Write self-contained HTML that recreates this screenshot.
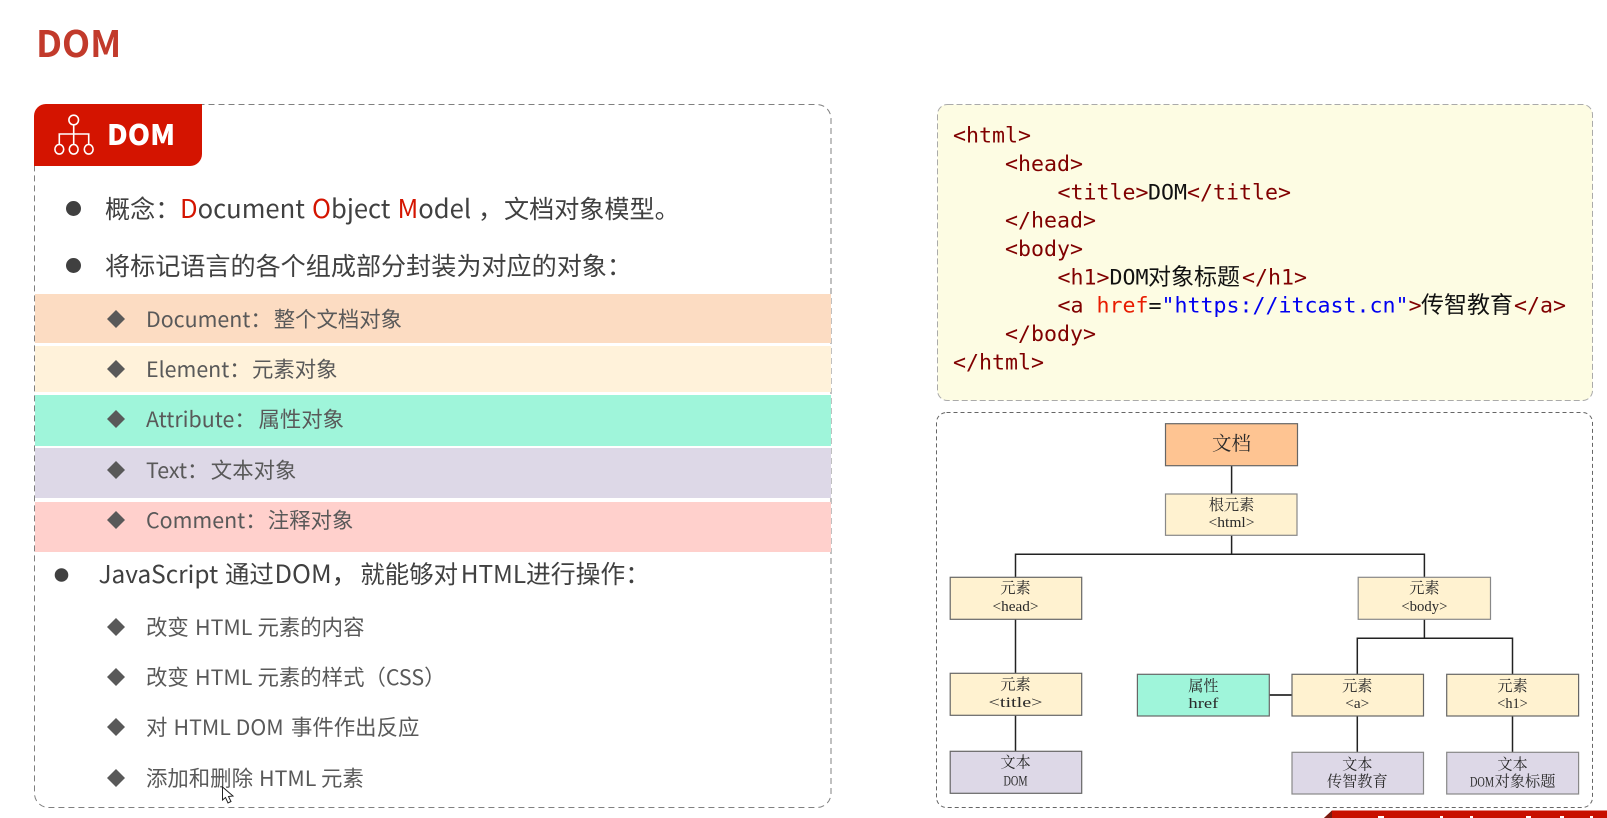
<!DOCTYPE html>
<html lang="zh">
<head>
<meta charset="utf-8">
<title>DOM</title>
<style>
html,body{margin:0;padding:0;background:#fff;width:1607px;height:818px;overflow:hidden}
svg{display:block}
.s{font-family:"Noto Sans CJK SC","Liberation Sans",sans-serif}
.l1{font-size:25.1px;fill:#404040}
.l2{font-size:21.4px;fill:#595959}
.c{font-family:"DejaVu Sans Mono","Liberation Mono",monospace;font-size:21.6px;fill:#800000}
.cj{font-family:"Noto Sans CJK SC",sans-serif;font-size:23px;fill:#111}
.k{fill:#111}
.b{fill:#0000f0}
.r{fill:#e81c00}
.bx{stroke:#666;stroke-width:1.2}
.y{fill:#fff2d0}.p{fill:#ddd8e7}.g{fill:#9ff5da}
.z{font-family:"Noto Serif CJK SC",serif;font-size:15.2px;fill:#2a2a2a;text-anchor:middle}
.m{font-family:"Liberation Serif",serif;font-size:15px;fill:#2a2a2a;text-anchor:middle}
.ln{stroke:#222;stroke-width:1.5;fill:none}
</style>
</head>
<body>
<svg width="1607" height="818" viewBox="0 0 1607 818" xmlns="http://www.w3.org/2000/svg">
<text class="s" x="36" y="57" font-size="36.5" font-weight="700" fill="#c23a2b">DOM</text>

<rect x="34.5" y="104.5" width="796.5" height="703" rx="14" fill="#fff" stroke="#808080" stroke-dasharray="6 4"/>
<path d="M34 166V116a12 12 0 0 1 12-12H202V154a12 12 0 0 1-12 12Z" fill="#d41400"/>
<g fill="none" stroke="#fff" stroke-width="1.6">
<circle cx="73.7" cy="120" r="4.8"/>
<ellipse cx="59.3" cy="149.3" rx="4.4" ry="4.8"/><ellipse cx="73.7" cy="149.3" rx="4.4" ry="4.8"/><ellipse cx="88.7" cy="149.3" rx="4.4" ry="4.8"/>
<path d="M73.7 125V144.500M59.3 144.500V134H88.7V144.500"/>
</g>
<text class="s" x="107" y="145" font-size="28.5" font-weight="900" fill="#fff">DOM</text>

<circle cx="73.5" cy="208.5" r="7.5" fill="#404040"/>
<text class="s l1" y="218"><tspan x="105">概念：</tspan><tspan x="180" font-size="25.6" style="fill:#d41400">D</tspan><tspan font-size="25.6">ocument</tspan><tspan x="312" font-size="25.6" style="fill:#d41400">O</tspan><tspan font-size="25.6">bject</tspan><tspan x="397.500" font-size="25.6" style="fill:#d41400">M</tspan><tspan font-size="25.6">odel</tspan><tspan x="478">，</tspan><tspan x="504">文档对象模型。</tspan></text>
<circle cx="73.5" cy="265.5" r="7.5" fill="#404040"/>
<text class="s l1" x="105" y="275">将标记语言的各个组成部分封装为对应的对象：</text>

<rect x="35" y="294" width="796" height="49" fill="#fcdcc2"/>
<rect x="35" y="346" width="796" height="46" fill="#fff2da"/>
<rect x="35" y="395" width="796" height="51" fill="#9ff5da"/>
<rect x="35" y="448" width="796" height="50" fill="#ddd8e7"/>
<rect x="35" y="502" width="796" height="50" fill="#ffd0cc"/>

<g fill="#595959">
<path d="M116 310l9 9-9 9-9-9Z"/><path d="M116 360l9 9-9 9-9-9Z"/><path d="M116 410l9 9-9 9-9-9Z"/><path d="M116 461l9 9-9 9-9-9Z"/><path d="M116 511l9 9-9 9-9-9Z"/>
<path d="M116 618l9 9-9 9-9-9Z"/><path d="M116 668l9 9-9 9-9-9Z"/><path d="M116 718l9 9-9 9-9-9Z"/><path d="M116 769l9 9-9 9-9-9Z"/>
</g>
<text class="s l2" y="327"><tspan x="146">Document：</tspan><tspan x="273.7">整个文档对象</tspan></text>
<text class="s l2" y="377"><tspan x="146">Element：</tspan><tspan x="252">元素对象</tspan></text>
<text class="s l2" y="427"><tspan x="146">Attribute：</tspan><tspan x="258.5">属性对象</tspan></text>
<text class="s l2" y="478"><tspan x="146">Text：</tspan><tspan x="210.8">文本对象</tspan></text>
<text class="s l2" y="528"><tspan x="146">Comment：</tspan><tspan x="267.8">注释对象</tspan></text>

<circle cx="61.5" cy="575" r="6.8" fill="#404040"/>
<text class="s" font-size="24.4" fill="#404040" y="583"><tspan x="98.500">JavaScript</tspan><tspan x="225">通过</tspan><tspan x="274.500" font-size="25.5">DOM，</tspan><tspan x="360.4">就能够对</tspan><tspan x="460.7">HTML</tspan><tspan x="526" font-size="24.8">进行操作：</tspan></text>

<text class="s l2" y="635"><tspan x="146">改变</tspan><tspan x="195">HTML</tspan><tspan x="257.5">元素的内容</tspan></text>
<text class="s l2" y="685"><tspan x="146">改变</tspan><tspan x="195">HTML</tspan><tspan x="257.5">元素的样式（CSS）</tspan></text>
<text class="s l2" y="735"><tspan x="146">对</tspan><tspan x="173.5">HTML DOM</tspan><tspan x="291">事件作出反应</tspan></text>
<text class="s l2" y="786"><tspan x="146">添加和删除</tspan><tspan x="259">HTML</tspan><tspan x="321">元素</tspan></text>
<path d="M222.5 787V800L225.5 797.5L228 803L231 801.5L228.500 796.500L233 796Z" fill="#fff" stroke="#222" stroke-width="1"/>

<rect x="937.500" y="104.500" width="655" height="296" rx="10" fill="#fdfce3" stroke="#aaa" stroke-dasharray="6 3"/>
<text class="c" x="953" y="142.500">&lt;html&gt;</text>
<text class="c" x="1005" y="171">&lt;head&gt;</text>
<text class="c" y="199.500"><tspan x="1057.500">&lt;title&gt;</tspan><tspan x="1148" class="k">DOM</tspan><tspan x="1187">&lt;/title&gt;</tspan></text>
<text class="c" x="1005" y="227.500">&lt;/head&gt;</text>
<text class="c" x="1005" y="256">&lt;body&gt;</text>
<text class="c" y="284.500"><tspan x="1057.500">&lt;h1&gt;</tspan><tspan x="1109.500" class="k">DOM</tspan></text>
<text class="cj" x="1148" y="284.500">对象标题</text>
<text class="c" x="1242" y="284.500">&lt;/h1&gt;</text>
<text class="c" y="312.500"><tspan x="1057.500">&lt;a </tspan><tspan class="r">href</tspan><tspan class="k">=</tspan><tspan class="b">"https://itcast.cn"</tspan><tspan>&gt;</tspan></text>
<text class="cj" x="1421" y="312.500">传智教育</text>
<text class="c" x="1514" y="312.500">&lt;/a&gt;</text>
<text class="c" x="1005" y="341">&lt;/body&gt;</text>
<text class="c" x="953" y="369.500">&lt;/html&gt;</text>

<rect x="936.500" y="412.500" width="656" height="395" rx="10" fill="#fff" stroke="#666" stroke-dasharray="4 3"/>

<path class="ln" d="M1231.600 466V494M1231.600 535V554.300M1015.500 577V554.300H1424.400V577M1015.500 619V673M1015.500 715V751M1424.400 619V638.300M1357.300 674V638.300H1512.500V674M1357.300 716V752M1512.500 716V752"/>
<path d="M1269 695H1292" stroke="#444" stroke-width="2"/>

<rect class="bx" x="1165.500" y="423.700" width="132" height="42" fill="#fec492"/>
<rect class="bx y" x="1165.500" y="494" width="131.500" height="41.300" style="stroke:#888"/>
<rect class="bx y" x="950.200" y="577.300" width="131.500" height="42"/>
<rect class="bx y" x="1358.200" y="577.300" width="132.300" height="42" style="stroke:#888"/>
<rect class="bx y" x="950.200" y="673.300" width="131.500" height="42"/>
<rect class="bx g" x="1137.400" y="674.300" width="131.900" height="41.700"/>
<rect class="bx y" x="1292" y="674.300" width="131.500" height="41.700"/>
<rect class="bx y" x="1446.700" y="674.300" width="131.900" height="41.700"/>
<rect class="bx p" x="950.200" y="751.300" width="131.500" height="42"/>
<rect class="bx p" x="1292" y="752.300" width="131.500" height="41.700" style="stroke:#888"/>
<rect class="bx p" x="1446.700" y="752.300" width="131.900" height="41.700" style="stroke:#888"/>

<text class="z" x="1231.500" y="450" style="font-size:19.500px">文档</text>
<text class="z" x="1231.500" y="509.800">根元素</text><text class="m" x="1231.500" y="527" textLength="46" lengthAdjust="spacingAndGlyphs">&lt;html&gt;</text>
<text class="z" x="1015.500" y="593">元素</text><text class="m" x="1015.500" y="611" textLength="46" lengthAdjust="spacingAndGlyphs">&lt;head&gt;</text>
<text class="z" x="1424.400" y="593">元素</text><text class="m" x="1424.400" y="611" textLength="46" lengthAdjust="spacingAndGlyphs">&lt;body&gt;</text>
<text class="z" x="1015.500" y="689.500">元素</text><text class="m" x="1015.500" y="707" textLength="54" lengthAdjust="spacingAndGlyphs">&lt;title&gt;</text>
<text class="z" x="1203.400" y="691">属性</text><text class="m" x="1203.400" y="708" textLength="30" lengthAdjust="spacingAndGlyphs">href</text>
<text class="z" x="1357.300" y="691">元素</text><text class="m" x="1357.300" y="708" textLength="24" lengthAdjust="spacingAndGlyphs">&lt;a&gt;</text>
<text class="z" x="1512.500" y="691">元素</text><text class="m" x="1512.500" y="708" textLength="30.500" lengthAdjust="spacingAndGlyphs">&lt;h1&gt;</text>
<text class="z" x="1015.500" y="767.500">文本</text><text class="m" x="1015.500" y="785.500" textLength="24" lengthAdjust="spacingAndGlyphs">DOM</text>
<text class="z" x="1357.300" y="769.500">文本</text><text class="z" x="1357.300" y="786.500">传智教育</text>
<text class="z" x="1512.500" y="769.500">文本</text>
<text class="m" x="1482" y="786.500" textLength="24" lengthAdjust="spacingAndGlyphs">DOM</text>
<text class="z" x="1525" y="786.500">对象标题</text>

<path d="M1324 818L1332 810.500H1607V818Z" fill="#c81000"/>
<path d="M1324 818L1332 810.500V818Z" fill="#7a1a10"/>
<g fill="#fff"><rect x="1378" y="816" width="6" height="2"/><rect x="1440" y="816" width="3" height="2"/><rect x="1470" y="816" width="3" height="2"/><rect x="1526" y="816" width="5" height="2"/><rect x="1560" y="816" width="4" height="2"/><rect x="1590" y="816" width="3" height="2"/></g>
</svg>
</body>
</html>
